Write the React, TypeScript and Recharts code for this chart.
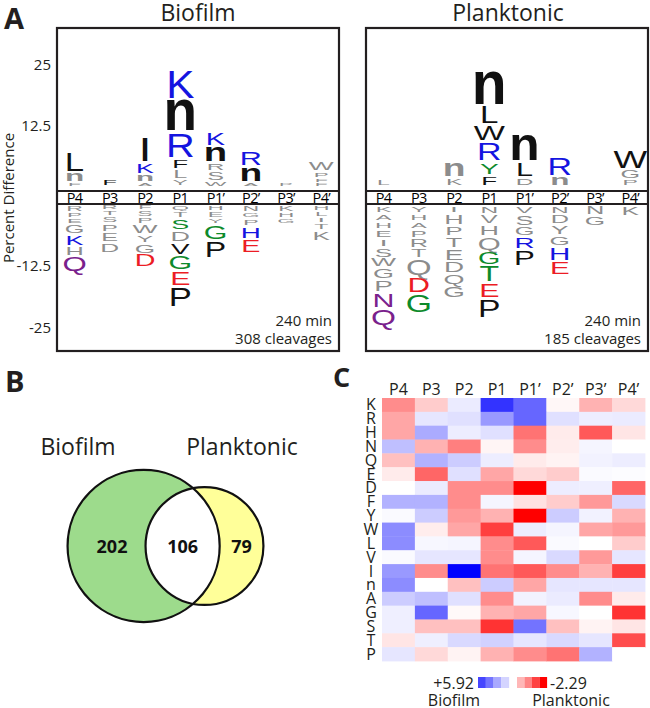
import React from "react";
import { BarChart, Bar, XAxis, YAxis, ScatterChart, Scatter } from "recharts";

// ---- data ----
const positions = ["P4", "P3", "P2", "P1", "P1\u2019", "P2\u2019", "P3\u2019", "P4\u2019"];

type Res = [string, number, number]; // residue, percent difference, significant (1) or not (0)

// stacks are listed from the P-row outward
const biofilmUp: Res[][] = [
  [["F", 0.8, 0], ["n", 2.0, 0], ["L", 4.3, 1]],
  [["F", 1.6, 1]],
  [["A", 0.8, 0], ["n", 1.6, 0], ["K", 2.4, 1], ["I", 5.3, 1]],
  [["Y", 1.4, 0], ["L", 2.0, 0], ["F", 2.2, 1], ["R", 5.5, 1], ["n", 6.5, 1], ["K", 6.1, 1]],
  [["W", 1.0, 0], ["S", 2.0, 0], ["R", 1.8, 0], ["n", 3.3, 1], ["K", 2.9, 1]],
  [["A", 0.8, 0], ["n", 3.1, 1], ["R", 3.3, 1]],
  [["P", 0.6, 0]],
  [["F", 0.8, 0], ["F", 0.9, 0], ["P", 1.2, 0], ["W", 2.0, 0]],
];

const biofilmDown: Res[][] = [
  [["R", -1.4, 0], ["P", -1.2, 0], ["E", -1.2, 0], ["G", -2.0, 0], ["K", -2.4, 1], ["H", -2.0, 0], ["Q", -3.4, 1]],
  [["R", -1.0, 0], ["T", -1.2, 0], ["S", -1.4, 0], ["P", -1.8, 0], ["E", -2.0, 0], ["D", -2.2, 0]],
  [["F", -1.0, 0], ["S", -1.4, 0], ["P", -1.4, 0], ["W", -2.0, 0], ["Y", -1.8, 0], ["G", -2.2, 0], ["D", -2.8, 1]],
  [["Q", -1.2, 0], ["T", -1.4, 0], ["S", -2.4, 1], ["D", -2.4, 0], ["V", -2.6, 1], ["G", -3.2, 1], ["E", -3.2, 1], ["P", -4.2, 1]],
  [["H", -1.2, 0], ["E", -1.4, 0], ["Y", -1.2, 0], ["G", -3.2, 1], ["P", -3.6, 1]],
  [["N", -1.4, 0], ["G", -1.2, 0], ["P", -1.6, 0], ["H", -2.6, 1], ["E", -2.8, 1]],
  [["K", -1.4, 0], ["H", -1.2, 0], ["G", -1.2, 0]],
  [["H", -1.2, 0], ["L", -1.2, 0], ["I", -1.2, 0], ["T", -1.4, 0], ["K", -2.2, 0]],
];

const planktonicUp: Res[][] = [
  [["L", 1.4, 0]],
  [],
  [["K", 1.8, 0], ["n", 3.1, 0]],
  [["F", 2.2, 1], ["Y", 2.7, 1], ["R", 4.1, 1], ["W", 3.5, 1], ["L", 3.9, 1], ["n", 6.9, 1]],
  [["D", 1.8, 0], ["L", 3.3, 1], ["n", 5.5, 1]],
  [["n", 2.0, 0], ["R", 4.1, 1]],
  [],
  [["P", 1.4, 0], ["G", 2.0, 0], ["W", 4.1, 1]],
];

const planktonicDown: Res[][] = [
  [["K", -1.6, 0], ["A", -1.6, 0], ["H", -1.6, 0], ["E", -1.8, 0], ["I", -1.8, 0], ["S", -2.2, 0], ["W", -2.0, 0], ["G", -2.4, 0], ["P", -2.6, 0], ["N", -3.2, 1], ["Q", -3.6, 1]],
  [["Y", -1.6, 0], ["H", -1.6, 0], ["A", -1.6, 0], ["P", -1.8, 0], ["R", -2.0, 0], ["T", -2.0, 0], ["Q", -3.8, 0], ["D", -3.4, 1], ["G", -4.0, 1]],
  [["I", -1.6, 0], ["H", -2.4, 0], ["P", -2.2, 0], ["T", -2.4, 0], ["E", -2.6, 0], ["D", -2.6, 0], ["Q", -2.4, 0], ["G", -2.6, 0]],
  [["N", -1.8, 0], ["V", -2.0, 0], ["H", -2.4, 0], ["Q", -3.0, 0], ["G", -2.8, 1], ["T", -3.6, 1], ["E", -3.2, 1], ["P", -4.0, 1]],
  [["V", -1.8, 0], ["S", -2.4, 0], ["G", -2.0, 0], ["R", -2.6, 1], ["P", -3.4, 1]],
  [["N", -1.8, 0], ["D", -2.0, 0], ["Y", -2.2, 0], ["G", -2.2, 0], ["H", -3.0, 1], ["E", -3.0, 1]],
  [["N", -2.0, 0], ["G", -2.2, 0]],
  [["K", -2.2, 0]],
];

const upTicks = [12.5, 25];
const downTicks = [-25, -12.5];

const vennSets = [
  { name: "Biofilm", total: 308, only: 202 },
  { name: "Planktonic", total: 185, only: 79 },
];
const vennShared = 106;

const residues = ["K", "R", "H", "N", "Q", "E", "D", "F", "Y", "W", "L", "V", "I", "n", "A", "G", "S", "T", "P"];
// + favours biofilm (blue, max 5.92), - favours planktonic (red, min -2.29)
const heatValues = [
  [-1.03, -0.46, 0.47, 4.74, 3.55, -0.07, -0.69, -0.34],
  [-0.8, 0.59, 0.71, 2.37, 3.55, 0.71, 0.41, 0.47],
  [-0.8, 1.95, 0.41, 0.71, -1.26, -0.18, -1.49, -0.23],
  [1.48, -0.69, -1.15, -0.09, -1.03, -0.16, 0.24, 0],
  [-0.57, 1.78, 1.18, 0.41, -0.18, -0.11, 0.3, 0.41],
  [-0.18, -1.37, 0.71, -0.8, -0.34, -0.46, 0.12, 0.06],
  [0, 0.47, -1.03, -1.03, -2.29, 0.41, 0.36, -1.37],
  [1.78, 1.78, -1.03, 0.24, -0.27, -0.46, -0.92, 0.89],
  [0.12, 1.18, -0.92, -0.69, -2.29, 1.18, 0.3, -0.69],
  [2.66, -0.16, -0.8, -1.72, 0.41, 0.24, -0.8, -0.92],
  [2.66, 0.18, 0.24, -1.03, -1.49, 0.12, 0, -0.46],
  [0.12, 0.59, 0.59, -1.03, 0.24, 0.89, -0.92, 0.59],
  [2.37, -1.03, 5.92, -1.26, -1.49, -1.03, -0.69, -1.72],
  [2.66, 0, -0.57, 1.18, -0.8, 0.59, 0.59, 0.59],
  [1.18, 1.48, 0.71, -1.03, 0.3, 0.47, -1.03, -0.18],
  [0.36, 3.55, -0.05, -0.69, -0.8, 0.18, 0, -1.83],
  [0.36, -0.57, -0.57, -1.83, 3.26, -0.57, -0.11, -0.23],
  [-0.23, 0.36, 0.89, 1.07, 0.59, 0.89, 0.59, -1.6],
  [0.59, -0.34, -0.11, -0.69, -1.03, -1.26, 1.78, 0],
];
const heatMax = 5.92;
const heatMin = -2.29;
const legendBlue = [4.3, 3.2, 2.0, 1.0];
const legendRed = [-0.65, -1.1, -1.7, -2.29];

// ---- styles ----
const INK = "#231f20";
const TEXT_FONT = "'Open Sans', 'Liberation Sans', sans-serif";
const LOGO_FONT = "'Liberation Sans', Arial, sans-serif";
const GRAY = "#8c8c8c";
const BLUE = "#1414e0";
const RED = "#ec1c24";
const GREEN = "#0d8a2b";
const PURPLE = "#7a218c";

const residueColor: Record<string, string> = {
  K: BLUE, R: BLUE, H: BLUE,
  D: RED, E: RED,
  G: GREEN, S: GREEN, T: GREEN, Y: GREEN,
  N: PURPLE, Q: PURPLE,
};
const widthFactor: Record<string, number> = { n: 1.25, W: 1.05, I: 1.2 };

const UP_PX = 4.9; // px per percent above the P row
const DOWN_PX = 4.96; // px per percent below it
const PANEL_W = 282;
const BOX_TOP = 28;
const ZERO_UP = 187;
const BAND_TOP = 191;
const BAND_BOTTOM = 204;
const BOX_BOTTOM = 351;

function buildRows(stacks: Res[][]) {
  const layers = Math.max(1, ...stacks.map((s) => s.length));
  const rows = positions.map((pos, idx) => {
    const row: Record<string, any> = { pos, idx };
    for (let i = 0; i < layers; i++) row[`v${i}`] = stacks[idx][i] ? stacks[idx][i][1] : 0;
    return row;
  });
  return { rows, layers };
}

function letterShape(stacks: Res[][], layer: number, up: boolean) {
  return (props: any) => {
    const entry = stacks[props.payload?.idx]?.[layer];
    if (!entry) return <g />;
    const y1 = props.y;
    const y2 = props.y + props.height;
    const top = Math.min(y1, y2);
    const bottom = Math.max(y1, y2);
    const seg = bottom - top;
    if (seg < 0.5) return <g />;
    const gap = Math.min(2.5, seg * 0.3);
    const gh = seg - gap;
    const base = up ? bottom - gap : bottom;
    const [ch, , sig] = entry;
    const lower = ch === "n";
    const sy = gh / ((lower ? 0.519 : 0.716) * 100);
    const sx = ((19 + 0.85 * gh) * (widthFactor[ch] ?? 1)) / 100;
    const cx = props.x + props.width / 2;
    return (
      <text
        x={0}
        y={0}
        transform={`translate(${cx} ${base}) scale(${sx} ${sy})`}
        fontSize={100}
        fontFamily={LOGO_FONT}
        fontWeight={lower ? 700 : 400}
        textAnchor="middle"
        fill={sig ? residueColor[ch] ?? "#111" : GRAY}
      >
        {ch}
      </text>
    );
  };
}

const yTick = (props: any) => (
  <text x={51} y={props.y + 5} textAnchor="end" fontSize={15} fontFamily={TEXT_FONT} fill={INK}>
    {props.payload.value}
  </text>
);

const bandTick = (props: any) => (
  <text x={props.x} y={16} textAnchor="middle" fontSize={14.5} letterSpacing={-0.6} fontFamily={TEXT_FONT} fill="#000">
    {props.payload.value}
  </text>
);

function LogoPanel({ up, down, left, showAxis }: { up: Res[][]; down: Res[][]; left: number; showAxis: boolean }) {
  const axisW = showAxis ? 57 : 0;
  const upData = buildRows(up);
  const downData = buildRows(down);
  const upH = ZERO_UP - BOX_TOP;
  const downH = BOX_BOTTOM - ZERO_UP;
  const bandH = BAND_BOTTOM - ZERO_UP;
  return (
    <>
      <div style={{ position: "absolute", left: left - axisW, top: BOX_TOP }}>
        <BarChart width={PANEL_W + axisW} height={upH} data={upData.rows} margin={{ top: 0, right: 0, bottom: 0, left: 0 }} barCategoryGap="10%">
          <XAxis dataKey="pos" hide />
          <YAxis type="number" domain={[0, upH / UP_PX]} ticks={upTicks} hide={!showAxis} width={axisW} axisLine={false} tickLine={false} tick={yTick} allowDataOverflow />
          {Array.from({ length: upData.layers }, (_, i) => (
            <Bar key={i} dataKey={`v${i}`} stackId="up" shape={letterShape(up, i, true)} isAnimationActive={false} />
          ))}
        </BarChart>
      </div>
      <div style={{ position: "absolute", left: left - axisW, top: ZERO_UP }}>
        <BarChart width={PANEL_W + axisW} height={downH} data={downData.rows} margin={{ top: 0, right: 0, bottom: 0, left: 0 }} barCategoryGap="10%">
          <XAxis dataKey="pos" orientation="top" height={bandH} axisLine={false} tickLine={false} tick={bandTick} interval={0} />
          <YAxis type="number" domain={[-(downH - bandH) / DOWN_PX, 0]} ticks={downTicks} hide={!showAxis} width={axisW} axisLine={false} tickLine={false} tick={yTick} allowDataOverflow />
          {Array.from({ length: downData.layers }, (_, i) => (
            <Bar key={i} dataKey={`v${i}`} stackId="down" shape={letterShape(down, i, false)} isAnimationActive={false} />
          ))}
        </BarChart>
      </div>
    </>
  );
}

// ---- heatmap ----
function heatColor(v: number) {
  if (v >= 0) {
    const c = Math.round(255 * (1 - Math.min(1, v / heatMax)));
    return `rgb(${c},${c},255)`;
  }
  const c = Math.round(255 * (1 - Math.min(1, v / heatMin)));
  return `rgb(255,${c},${c})`;
}

const HEAT_W = 263;
const HEAT_H = 263;
const CELL_W = HEAT_W / positions.length;
const CELL_H = HEAT_H / residues.length;
const heatPoints = residues.flatMap((r, ri) => positions.map((p, pi) => ({ x: pi, y: ri, v: heatValues[ri][pi] })));

const cellShape = (props: any) => (
  <rect x={props.cx - CELL_W / 2} y={props.cy - CELL_H / 2} width={CELL_W + 0.4} height={CELL_H + 0.4} fill={heatColor(props.payload.v)} />
);
const headTick = (props: any) => (
  <text x={props.x} y={25} textAnchor="middle" fontSize={16} fontFamily={TEXT_FONT} fill={INK}>
    {positions[props.payload.value]}
  </text>
);
const rowTick = (props: any) => (
  <text x={31} y={props.y + 5.5} textAnchor="middle" fontSize={16} fontFamily={TEXT_FONT} fill={INK}>
    {residues[props.payload.value]}
  </text>
);

function Heatmap() {
  return (
    <div style={{ position: "absolute", left: 340, top: 370 }}>
      <ScatterChart width={310} height={295} margin={{ top: 0, right: 5, bottom: 4, left: 0 }}>
        <XAxis type="number" dataKey="x" orientation="top" domain={[-0.5, positions.length - 0.5]} ticks={positions.map((_, i) => i)} height={28} axisLine={false} tickLine={false} tick={headTick} interval={0} />
        <YAxis type="number" dataKey="y" domain={[-0.5, residues.length - 0.5]} reversed ticks={residues.map((_, i) => i)} width={42} axisLine={false} tickLine={false} tick={rowTick} interval={0} />
        <Scatter data={heatPoints} shape={cellShape} isAnimationActive={false} />
      </ScatterChart>
    </div>
  );
}

// ---- venn (areas proportional to counts) ----
const AREA_PER_ITEM = 59;
const rA = Math.sqrt((vennSets[0].total * AREA_PER_ITEM) / Math.PI);
const rB = Math.sqrt((vennSets[1].total * AREA_PER_ITEM) / Math.PI);
function lensArea(d: number, r1: number, r2: number) {
  const a = Math.acos(Math.max(-1, Math.min(1, (d * d + r1 * r1 - r2 * r2) / (2 * d * r1))));
  const b = Math.acos(Math.max(-1, Math.min(1, (d * d + r2 * r2 - r1 * r1) / (2 * d * r2))));
  const k = (-d + r1 + r2) * (d + r1 - r2) * (d - r1 + r2) * (d + r1 + r2);
  return r1 * r1 * a + r2 * r2 * b - 0.5 * Math.sqrt(Math.max(0, k));
}
let lo = Math.abs(rA - rB) + 0.01;
let hi = rA + rB;
for (let i = 0; i < 60; i++) {
  const mid = (lo + hi) / 2;
  if (lensArea(mid, rA, rB) > vennShared * AREA_PER_ITEM) lo = mid;
  else hi = mid;
}
const dist = (lo + hi) / 2;
const VENN_MID = 165.5;
const cA = VENN_MID - (rA + dist + rB) / 2 + rA;
const cB = cA + dist;
const vennPoints = [
  { x: cA, y: 90, set: 0 },
  { x: cB, y: 90, set: 1 },
];
const vennFill = ["#9ddb8c", "#ffff99"];

const vennFillShape = (p: any) => (
  <circle cx={p.cx} cy={p.cy} r={p.payload.set === 0 ? rA : rB} fill={vennFill[p.payload.set]} />
);
const vennLensShape = (p: any) => (
  <g>
    <defs>
      <clipPath id="lensClip">
        <circle cx={p.cx - dist} cy={p.cy} r={rA} />
      </clipPath>
    </defs>
    <circle cx={p.cx} cy={p.cy} r={rB} fill="#ffffff" clipPath="url(#lensClip)" />
  </g>
);
const vennOutlineShape = (p: any) => {
  const set = p.payload.set;
  const r = set === 0 ? rA : rB;
  const numStyle = { fontSize: 18, fontWeight: 700, fontFamily: TEXT_FONT, fill: "#111", textAnchor: "middle" as const };
  const leftEdge = cA - rA;
  const lensLeft = cB - rB;
  const lensRight = cA + rA;
  const rightEdge = cB + rB;
  return (
    <g>
      <circle cx={p.cx} cy={p.cy} r={r} fill="none" stroke="#111" strokeWidth={2.2} />
      {set === 0 ? (
        <text x={p.cx - cA + leftEdge + 0.57 * (lensLeft - leftEdge)} y={p.cy + 6.5} {...numStyle}>
          {vennSets[0].only}
        </text>
      ) : (
        <>
          <text x={p.cx - cB + (lensRight + rightEdge) / 2} y={p.cy + 6.5} {...numStyle}>
            {vennSets[1].only}
          </text>
          <text x={p.cx - cB + (lensLeft + lensRight) / 2} y={p.cy + 6.5} {...numStyle}>
            {vennShared}
          </text>
        </>
      )}
    </g>
  );
};

function Venn() {
  return (
    <div style={{ position: "absolute", left: 0, top: 456 }}>
      <ScatterChart width={330} height={180} margin={{ top: 0, right: 0, bottom: 0, left: 0 }}>
        <XAxis type="number" dataKey="x" domain={[0, 330]} hide />
        <YAxis type="number" dataKey="y" domain={[0, 180]} hide />
        <Scatter data={vennPoints} shape={vennFillShape} isAnimationActive={false} />
        <Scatter data={[vennPoints[1]]} shape={vennLensShape} isAnimationActive={false} />
        <Scatter data={vennPoints} shape={vennOutlineShape} isAnimationActive={false} />
      </ScatterChart>
    </div>
  );
}

// ---- frames and labels ----
function Overlay() {
  const boxes = [57, 366];
  return (
    <svg width={650} height={708} style={{ position: "absolute", left: 0, top: 0, pointerEvents: "none" }}>
      <g fontFamily={TEXT_FONT} fill={INK}>
        <text x={4} y={29} fontSize={29} fontWeight={700}>A</text>
        <text x={5} y={392} fontSize={29} fontWeight={700}>B</text>
        <text x={333} y={387} fontSize={27} fontWeight={700}>C</text>
        <text x={198} y={21} fontSize={23} textAnchor="middle">Biofilm</text>
        <text x={508} y={21} fontSize={23} textAnchor="middle">Planktonic</text>
        <text transform="translate(14 198) rotate(-90)" fontSize={15} textAnchor="middle">Percent Difference</text>
        <text x={332} y={326} fontSize={15} textAnchor="end">240 min</text>
        <text x={332} y={344} fontSize={15} textAnchor="end">308 cleavages</text>
        <text x={641} y={326} fontSize={15} textAnchor="end">240 min</text>
        <text x={641} y={344} fontSize={15} textAnchor="end">185 cleavages</text>
        <text x={78} y={455} fontSize={23} textAnchor="middle">{vennSets[0].name}</text>
        <text x={242} y={455} fontSize={23} textAnchor="middle">{vennSets[1].name}</text>
        <text x={474} y={689} fontSize={16} textAnchor="end">+5.92</text>
        <text x={550} y={689} fontSize={16}>-2.29</text>
        <text x={454} y={706} fontSize={16} textAnchor="middle">Biofilm</text>
        <text x={571} y={706} fontSize={16} textAnchor="middle">Planktonic</text>
      </g>
      {boxes.map((bx) => (
        <g key={bx} stroke={INK} fill="none">
          <rect x={bx} y={BOX_TOP} width={PANEL_W} height={BOX_BOTTOM - BOX_TOP} strokeWidth={2.2} />
          <line x1={bx} x2={bx + PANEL_W} y1={BAND_TOP} y2={BAND_TOP} strokeWidth={2} />
          <line x1={bx} x2={bx + PANEL_W} y1={BAND_BOTTOM} y2={BAND_BOTTOM} strokeWidth={2} />
        </g>
      ))}
      {legendBlue.map((v, i) => (
        <rect key={`b${i}`} x={478 + i * 7.75} y={677} width={7.9} height={11} fill={heatColor(v)} />
      ))}
      {legendRed.map((v, i) => (
        <rect key={`r${i}`} x={517 + i * 7.5} y={677} width={7.6} height={11} fill={heatColor(v)} />
      ))}
    </svg>
  );
}

export default function App() {
  return (
    <div style={{ position: "absolute", left: 0, top: 0, width: 650, height: 708, background: "#fff", overflow: "hidden" }}>
      <LogoPanel up={biofilmUp} down={biofilmDown} left={57} showAxis />
      <LogoPanel up={planktonicUp} down={planktonicDown} left={366} showAxis={false} />
      <Venn />
      <Heatmap />
      <Overlay />
    </div>
  );
}
